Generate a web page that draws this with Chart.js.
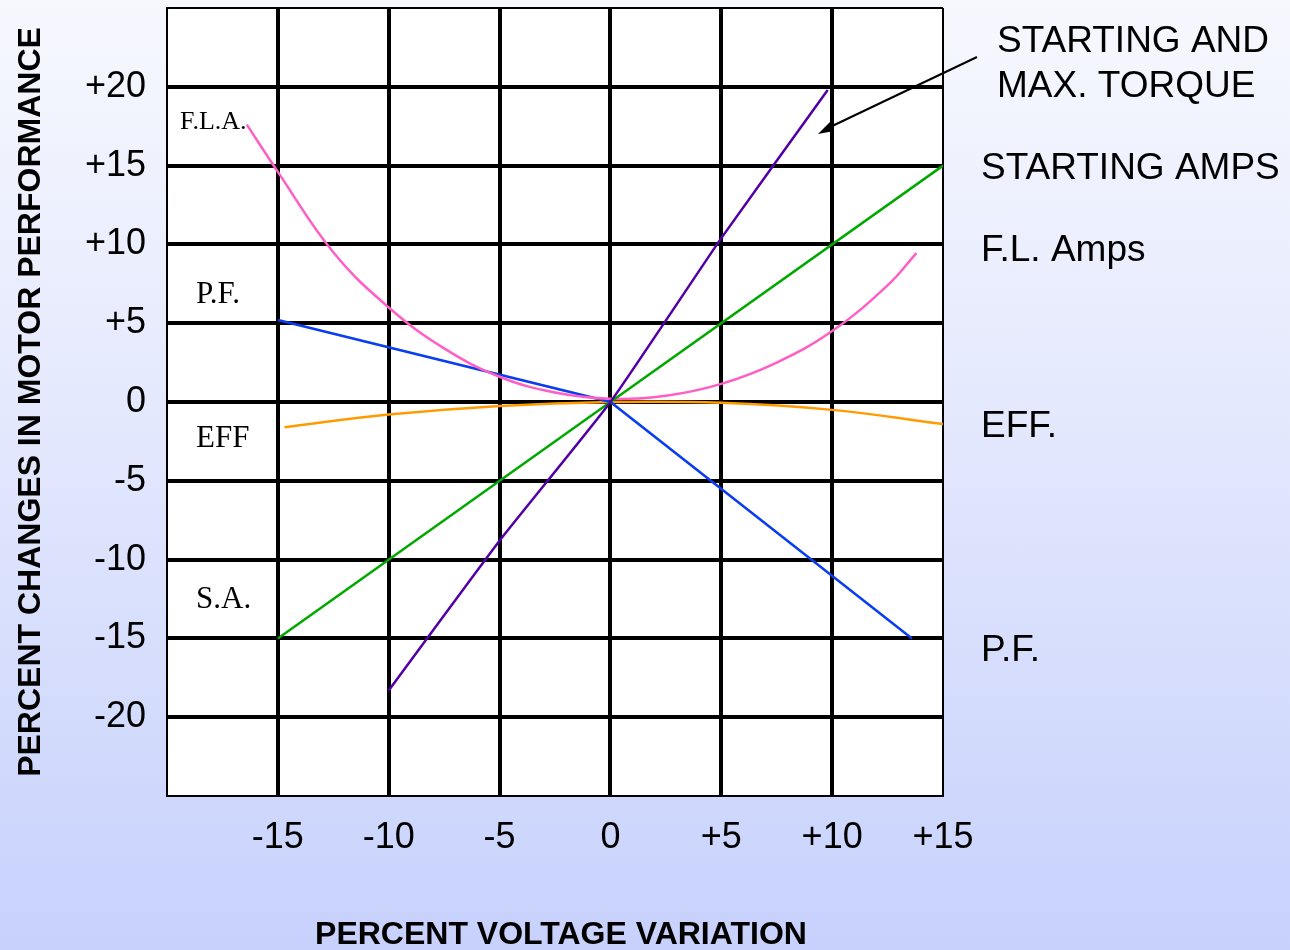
<!DOCTYPE html>
<html>
<head>
<meta charset="utf-8">
<script src="https://cdn.jsdelivr.net/npm/chart.js@4.4.1/dist/chart.umd.min.js"></script>
<style>
  html, body { margin: 0; padding: 0; }
  body {
    width: 1290px; height: 950px; overflow: hidden;
    background: linear-gradient(to bottom, #f7f8fe 0%, #e3e8fd 45%, #c7d1fc 100%);
  }
  #wrap { position: relative; width: 1290px; height: 950px; }
</style>
</head>
<body>
<div id="wrap"><canvas id="motorChart" width="1290" height="950"></canvas></div>
<script>
// Data (percent voltage variation -> percent change)
const xTicks = [-20, -15, -10, -5, 0, 5, 10, 15];
const yTicks = [-25, -20, -15, -10, -5, 0, 5, 10, 15, 20, 25];

const torqueX = [-10, -5, 0, 5, 9.8];
const torqueY = [-18.3, -8.8, 0, 10.4, 19.8];

const startAmpsX = [-15, 0, 15];
const startAmpsY = [-15, 0, 15];

const flaX = [-16.4, -15, -12.5, -10, -7.5, -5, -2.5, 0, 2.5, 5, 7.5, 10, 12.5, 13.8];
const flaY = [17.6, 14.6, 9.5, 6.0, 3.4, 1.6, 0.6, 0.2, 0.4, 1.15, 2.5, 4.5, 7.4, 9.45];

const pfX = [-15, 0, 13.6];
const pfY = [5.2, 0, -15];

const effX = [-14.7, -10, -5, 0, 5, 10, 15];
const effY = [-1.6, -0.8, -0.25, 0, -0.05, -0.5, -1.4];

const pts = (xs, ys) => xs.map((x, i) => ({ x: x, y: ys[i] }));

const SANS = '"Liberation Sans", Arial, sans-serif';
const SERIF = '"Liberation Serif", "Times New Roman", serif';

// White plot area
const plotBg = {
    id: 'plotBg',
    beforeDraw(chart) {
        const { ctx, chartArea: a } = chart;
        ctx.save();
        ctx.fillStyle = '#ffffff';
        ctx.fillRect(a.left, a.top, a.right - a.left, a.bottom - a.top);
        ctx.restore();
    }
};

// Titles, curve names and the arrow
const annotations = {
    id: 'annotations',
    afterDraw(chart) {
        const ctx = chart.ctx;
        ctx.save();
        ctx.fillStyle = '#000';
        ctx.textBaseline = 'middle';

        // axis titles
        ctx.font = 'bold 32px ' + SANS;
        ctx.textAlign = 'center';
        ctx.fillText('PERCENT VOLTAGE VARIATION', 561, 935);
        ctx.save();
        ctx.translate(31, 402);
        ctx.rotate(-Math.PI / 2);
        ctx.fillText('PERCENT CHANGES IN MOTOR PERFORMANCE', 0, 0);
        ctx.restore();

        // names inside the plot
        ctx.textAlign = 'left';
        ctx.font = '26px ' + SERIF;
        ctx.fillText('F.L.A.', 180, 122);
        ctx.font = '31px ' + SERIF;
        ctx.fillText('P.F.', 196, 295);
        ctx.fillText('EFF', 196, 439);
        ctx.fillText('S.A.', 196, 600);

        // names on the right
        ctx.font = '37px ' + SANS;
        ctx.fillText('STARTING AND', 997, 42);
        ctx.fillText('MAX. TORQUE', 997, 87);
        ctx.fillText('STARTING AMPS', 981, 169);
        ctx.fillText('F.L. Amps', 981, 251);
        ctx.fillText('EFF.', 981, 427);
        ctx.fillText('P.F.', 981, 651);

        // arrow
        ctx.strokeStyle = '#000';
        ctx.lineWidth = 2;
        ctx.beginPath();
        ctx.moveTo(977, 57);
        ctx.lineTo(828, 128);
        ctx.stroke();
        ctx.beginPath();
        ctx.moveTo(818, 134);
        ctx.lineTo(830, 122);
        ctx.lineTo(834, 131);
        ctx.closePath();
        ctx.fill();
        ctx.restore();
    }
};

const edgeWidth = (min, max) => (c) => (c.tick && (c.tick.value === min || c.tick.value === max)) ? 2 : 4;

new Chart(document.getElementById('motorChart'), {
    type: 'scatter',
    data: {
        datasets: [
            { label: 'Starting and max. torque', data: pts(torqueX, torqueY), borderColor: '#5200a6', tension: 0.15 },
            { label: 'Starting amps', data: pts(startAmpsX, startAmpsY), borderColor: '#00a800', tension: 0 },
            { label: 'F.L. Amps', data: pts(flaX, flaY), borderColor: '#ff5fc4', tension: 0.4 },
            { label: 'P.F.', data: pts(pfX, pfY), borderColor: '#0a3cf0', tension: 0 },
            { label: 'EFF.', data: pts(effX, effY), borderColor: '#ff9a00', tension: 0.4 }
        ].map(d => Object.assign({
            showLine: true,
            borderWidth: 2.5,
            pointRadius: 0,
            pointHoverRadius: 0,
            fill: false
        }, d))
    },
    options: {
        responsive: false,
        animation: false,
        events: [],
        layout: { padding: { left: 0, top: 8, right: 347, bottom: 0 } },
        plugins: {
            legend: { display: false },
            tooltip: { enabled: false }
        },
        scales: {
            x: {
                type: 'linear',
                min: xTicks[0],
                max: xTicks[xTicks.length - 1],
                afterBuildTicks: (s) => { s.ticks = xTicks.map(v => ({ value: v })); },
                afterFit: (s) => { s.height = 154; s.paddingLeft = 0; s.paddingRight = 0; },
                grid: { color: '#000', lineWidth: edgeWidth(-20, 15), drawTicks: false },
                border: { display: true, color: '#000', width: 2 },
                ticks: {
                    color: '#000',
                    padding: 20,
                    font: { family: SANS, size: 36 },
                    callback: (v) => v === -20 ? '' : (v > 0 ? '+' + v : String(v))
                }
            },
            y: {
                type: 'linear',
                min: yTicks[0],
                max: yTicks[yTicks.length - 1],
                afterBuildTicks: (s) => { s.ticks = yTicks.map(v => ({ value: v })); },
                afterFit: (s) => { s.width = 167; s.paddingTop = 0; s.paddingBottom = 0; },
                grid: { color: '#000', lineWidth: edgeWidth(-25, 25), drawTicks: false },
                border: { display: true, color: '#000', width: 2 },
                ticks: {
                    color: '#000',
                    padding: 21,
                    font: { family: SANS, size: 36 },
                    callback: (v) => Math.abs(v) === 25 ? '' : (v > 0 ? '+' + v : String(v))
                }
            }
        }
    },
    plugins: [plotBg, annotations]
});
</script>
</body>
</html>
